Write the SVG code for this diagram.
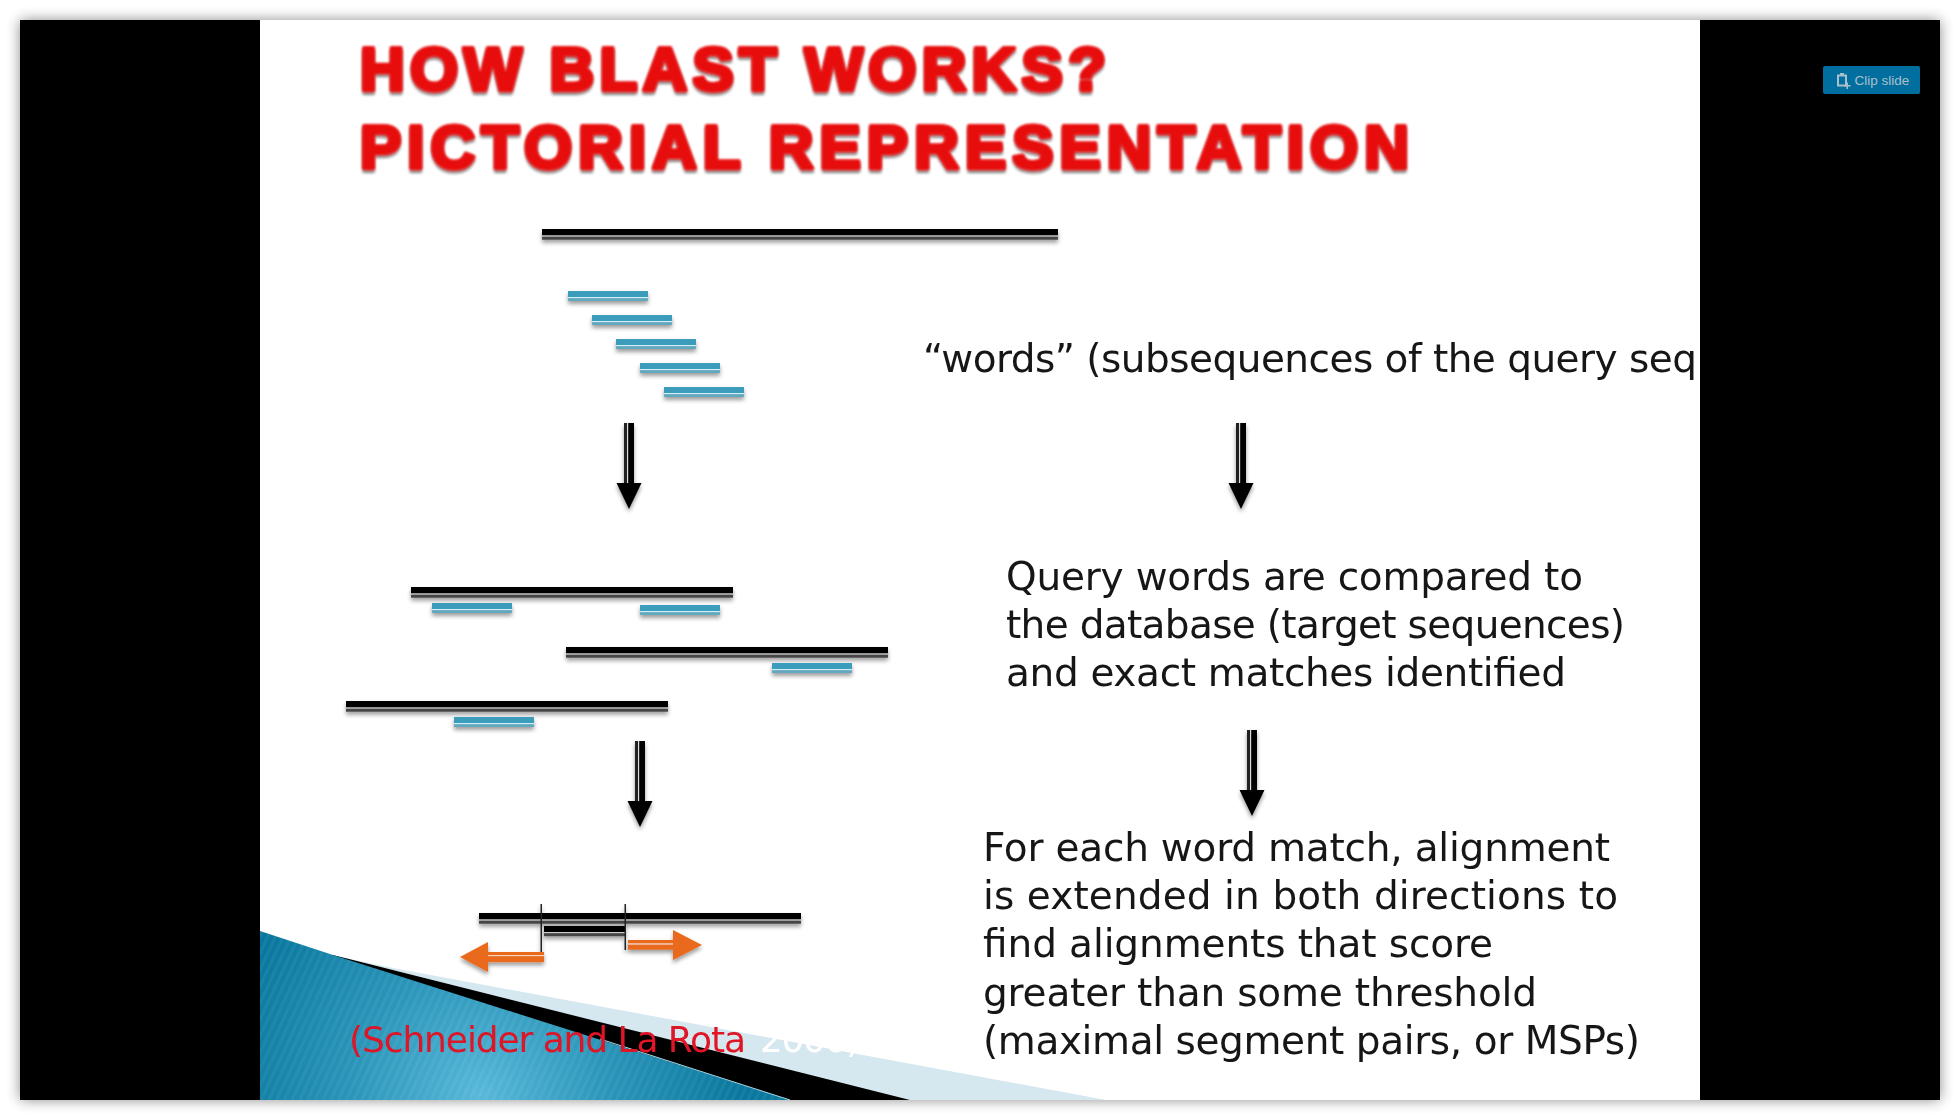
<svg xmlns="http://www.w3.org/2000/svg" xmlns:xlink="http://www.w3.org/1999/xlink" width="1960" height="1120" viewBox="0 0 1960 1120">
<style>
.body{font-family:"DejaVu Sans","Liberation Sans",sans-serif;font-size:39px;fill:#161616}
.title{font-family:"Liberation Sans",Arial,sans-serif;font-weight:700;font-size:62px;fill:#e80808;stroke:#e80808;stroke-width:4px;stroke-linejoin:round}
.cap{font-family:"DejaVu Sans","Liberation Sans",sans-serif;font-size:36px}
.btn{font-family:"Liberation Sans",Arial,sans-serif;font-size:13.5px;fill:#a9c0cc}
</style>
<defs>
<filter id="frameShadow" x="-5%" y="-5%" width="110%" height="110%"><feGaussianBlur stdDeviation="7"/></filter>
<filter id="softT" x="-2%" y="-10%" width="104%" height="120%"><feGaussianBlur stdDeviation="0.5"/></filter>
<filter id="titleF" x="-2%" y="-10%" width="104%" height="125%"><feGaussianBlur stdDeviation="0.8" result="b"/><feGaussianBlur in="SourceAlpha" stdDeviation="1.6"/><feOffset dy="3"/><feComponentTransfer><feFuncA type="linear" slope="0.5"/></feComponentTransfer><feMerge><feMergeNode/><feMergeNode in="b"/></feMerge></filter>
<filter id="barS" x="-10%" y="-100%" width="120%" height="400%"><feGaussianBlur in="SourceGraphic" stdDeviation="0.5" result="b"/><feGaussianBlur in="SourceAlpha" stdDeviation="2"/><feOffset dy="3"/><feComponentTransfer><feFuncA type="linear" slope="0.4"/></feComponentTransfer><feMerge><feMergeNode/><feMergeNode in="b"/></feMerge></filter>
<radialGradient id="blue" gradientUnits="userSpaceOnUse" cx="480" cy="1095" r="260"><stop offset="0" stop-color="#58b8d9"/><stop offset="0.5" stop-color="#2a95b9"/><stop offset="1" stop-color="#0a789e"/></radialGradient>
<pattern id="stripes" width="7" height="7" patternUnits="userSpaceOnUse" patternTransform="rotate(25)"><rect width="3" height="7" fill="#fff" opacity="0.05"/></pattern>
<clipPath id="slideClip"><rect x="260" y="20" width="1440" height="1080"/></clipPath>
<g id="barLong"><rect width="322" height="6.500" fill="#000"/><rect y="6.500" width="322" height="1.200" fill="#ccc"/><rect y="7.700" width="322" height="3" fill="#444"/></g>
<g id="barWord"><rect width="80" height="6" fill="#3a9dbb"/><rect y="6" width="80" height="1.200" fill="#d0f0f8"/><rect y="7.200" width="80" height="2.800" fill="#62a9c0"/></g>
<g id="arrowDown"><rect x="-5" y="0" width="3" height="62" fill="#222"/><rect x="-2" y="0" width="1.200" height="62" fill="#ddd"/><rect x="-0.800" y="0" width="5.800" height="62" fill="#000"/><polygon points="-12.500,60 12.500,60 0,86" fill="#000"/></g>
</defs>
<rect width="1960" height="1120" fill="#fff"/>
<rect id="frameShadowRect" x="20" y="20" width="1920" height="1080" fill="#000" opacity="0.45" filter="url(#frameShadow)"/>
<rect id="frame" x="20" y="20" width="1920" height="1080" fill="#000"/>
<rect id="slide" x="260" y="20" width="1440" height="1080" fill="#fff"/>
<g id="wedge" clip-path="url(#slideClip)">
<polygon points="345,958 393,968 1106,1100 345,1100" fill="#d6e8ef"/>
<polygon points="333,955 910,1100 333,1100" fill="#000"/>
<polygon points="260,931 333,955 790,1100 260,1100" fill="url(#blue)"/>
<polygon points="260,931 333,955 790,1100 260,1100" fill="url(#stripes)"/>
<line x1="600" y1="1039" x2="790" y2="1100" stroke="#a8d8e6" stroke-width="1"/>
</g>
<g id="title" filter="url(#titleF)">
<text class="title" x="360" y="90" textLength="746">HOW BLAST WORKS?</text>
<text class="title" x="360" y="168" textLength="1049">PICTORIAL REPRESENTATION</text>
</g>
<g id="query" filter="url(#barS)"><rect x="542" y="229" width="516" height="6.500" fill="#000"/><rect x="542" y="235.500" width="516" height="1.200" fill="#ccc"/><rect x="542" y="236.700" width="516" height="3" fill="#444"/></g>
<g id="words" filter="url(#barS)">
<use href="#barWord" x="568" y="291"/><use href="#barWord" x="592" y="315"/><use href="#barWord" x="616" y="339"/><use href="#barWord" x="640" y="363"/><use href="#barWord" x="664" y="387"/>
</g>
<g id="database" filter="url(#barS)">
<use href="#barLong" x="411" y="587"/><use href="#barWord" x="432" y="603"/><use href="#barWord" x="640" y="605"/>
<use href="#barLong" x="566" y="647"/><use href="#barWord" x="772" y="663"/>
<use href="#barLong" x="346" y="701"/><use href="#barWord" x="454" y="717"/>
</g>
<g id="connectors" filter="url(#barS)">
<use href="#arrowDown" x="629" y="423"/>
<use href="#arrowDown" x="1241" y="423"/>
<use href="#arrowDown" x="640" y="741"/>
<use href="#arrowDown" x="1252" y="730"/>
</g>
<g id="extension" filter="url(#barS)">
<use href="#barLong" x="479" y="913"/>
<rect x="544" y="926" width="81" height="6" fill="#000"/><rect x="544" y="932" width="81" height="1.200" fill="#ccc"/><rect x="544" y="933.200" width="81" height="3" fill="#444"/>
<rect x="540.500" y="904" width="1.500" height="48" fill="#222"/><rect x="624.500" y="904" width="1.500" height="46" fill="#222"/>
<rect x="488" y="952" width="56" height="3" fill="#e96a1f"/><rect x="488" y="955" width="56" height="1.200" fill="#f8d2b8"/><rect x="488" y="956.200" width="56" height="6" fill="#e96a1f"/><polygon points="460,957 488,942 488,972" fill="#e96a1f"/>
<rect x="628" y="940" width="46" height="3.500" fill="#e96a1f"/><rect x="628" y="943.500" width="46" height="1.200" fill="#f8d2b8"/><rect x="628" y="944.700" width="46" height="5" fill="#e96a1f"/><polygon points="702,945 673,930 673,960" fill="#e96a1f"/>
</g>
<g id="labels" filter="url(#softT)" clip-path="url(#slideClip)">
<text class="body" x="923" y="372" textLength="774">“words” (subsequences of the query seq</text>
<text class="body" x="1006" y="590" textLength="577">Query words are compared to</text>
<text class="body" x="1006" y="638" textLength="619">the database (target sequences)</text>
<text class="body" x="1006" y="686" textLength="560">and exact matches identified</text>
<text class="body" x="983" y="861" textLength="627">For each word match, alignment</text>
<text class="body" x="983" y="909" textLength="635">is extended in both directions to</text>
<text class="body" x="983" y="957" textLength="510">find alignments that score</text>
<text class="body" x="983" y="1006" textLength="554">greater than some threshold</text>
<text class="body" x="983" y="1054" textLength="657">(maximal segment pairs, or MSPs)</text>
<text class="cap" x="349" y="1052" textLength="397" fill="#df1226">(Schneider and La Rota</text>
<text class="cap" x="760" y="1052" textLength="100" fill="#fff">2006)</text>
</g>
<g id="clip-slide">
<rect x="1823" y="66" width="97" height="28" rx="2" fill="#006e9f"/>
<path d="M1838 75.500h8v10h-8z" fill="none" stroke="#a9c0cc" stroke-width="2"/><rect x="1840" y="73" width="4" height="3" fill="#a9c0cc"/><path d="M1844 85h2.500v-2.500h1.500v2.500h2.500v1.500h-2.500v2.500h-1.500v-2.500h-2.500z" fill="#a9c0cc"/>
<text class="btn" x="1854.500" y="85">Clip slide</text>
</g>
</svg>
